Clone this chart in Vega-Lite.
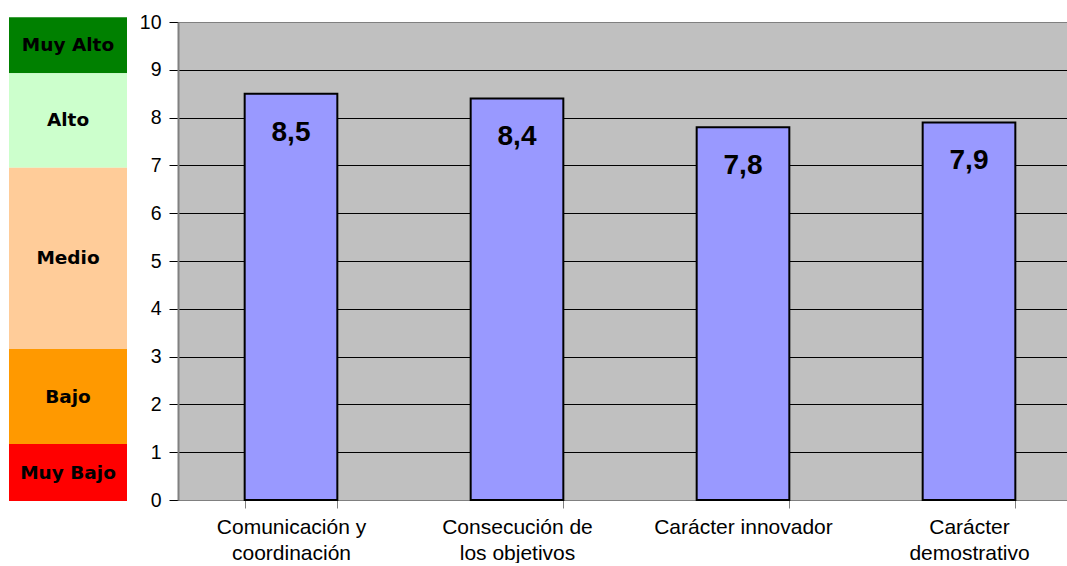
{
  "$schema": "https://vega.github.io/schema/vega-lite/v6.json",
  "background": "white",
  "autosize": {"type": "pad"},
  "padding": {"left": 9, "top": 12, "right": 0, "bottom": 0},
  "bounds": "flush",
  "spacing": 51,
  "config": {
    "view": {"stroke": null},
    "font": "Liberation Sans",
    "locale": {"number": {"decimal": ",", "thousands": ".", "grouping": [3], "currency": ["", " €"]}}
  },
  "hconcat": [
    {
      "width": 118,
      "height": 478,
      "data": {"values": [
        {"nivel": "Muy Alto", "lo": 8.93, "hi": 10.1},
        {"nivel": "Alto", "lo": 6.95, "hi": 8.93},
        {"nivel": "Medio", "lo": 3.16, "hi": 6.95},
        {"nivel": "Bajo", "lo": 1.17, "hi": 3.16},
        {"nivel": "Muy Bajo", "lo": -0.02, "hi": 1.17}
      ]},
      "transform": [{"calculate": "(datum.lo + datum.hi) / 2", "as": "mid"}],
      "layer": [
        {
          "mark": {"type": "rect"},
          "encoding": {
            "y": {"field": "lo", "type": "quantitative", "scale": {"domain": [0, 10], "nice": false}, "axis": null},
            "y2": {"field": "hi"},
            "color": {"field": "nivel", "type": "nominal", "legend": null,
              "scale": {"domain": ["Muy Alto", "Alto", "Medio", "Bajo", "Muy Bajo"],
                        "range": ["#008000", "#CCFFCC", "#FFCC99", "#FF9900", "#FF0000"]}}
          }
        },
        {
          "mark": {"type": "text", "font": "DejaVu Sans", "fontWeight": "bold", "fontSize": 18.5, "color": "#000", "baseline": "middle", "align": "center"},
          "encoding": {
            "y": {"field": "mid", "type": "quantitative", "scale": {"domain": [0, 10], "nice": false}, "axis": null},
            "text": {"field": "nivel", "type": "nominal"}
          }
        }
      ]
    },
    {
      "width": 904,
      "height": 478,
      "view": {"fill": "#C0C0C0", "stroke": null},
      "data": {"values": [
        {"cat": "Comunicación y|coordinación", "value": 8.5},
        {"cat": "Consecución de|los objetivos", "value": 8.4},
        {"cat": "Carácter innovador", "value": 7.8},
        {"cat": "Carácter|demostrativo", "value": 7.9}
      ]},
      "encoding": {
        "x": {"field": "cat", "type": "nominal", "sort": null,
          "scale": {"paddingInner": 0.59, "paddingOuter": 0.295},
          "axis": {"title": null, "labelAngle": 0, "tickBand": "extent", "tickSize": 8, "tickColor": "#808080",
                   "domainColor": "#808080", "domainWidth": 1, "labelFontSize": 21, "labelColor": "#000",
                   "labelPadding": 8, "labelLineHeight": 26, "labelExpr": "split(datum.label, '|')"}},
        "y": {"field": "value", "type": "quantitative", "scale": {"domain": [0, 10], "nice": false},
          "axis": {"title": null, "values": [0,1,2,3,4,5,6,7,8,9,10], "grid": true,
                   "gridColor": {"condition": {"test": "datum.value == 10", "value": "#808080"}, "value": "#000"},
                   "gridWidth": 1, "tickColor": "#000", "tickSize": 9, "domainColor": "#808080", "domainWidth": 2,
                   "labelFontSize": 19.5, "labelColor": "#000", "labelPadding": 8}}
      },
      "layer": [
        {"mark": {"type": "bar", "color": "#9999FF", "stroke": "#000", "strokeWidth": 2}},
        {"mark": {"type": "text", "fontWeight": "bold", "fontSize": 28, "color": "#000", "baseline": "middle", "dy": 39},
         "encoding": {"text": {"field": "value", "type": "quantitative", "format": ".1f"}}}
      ]
    }
  ]
}
